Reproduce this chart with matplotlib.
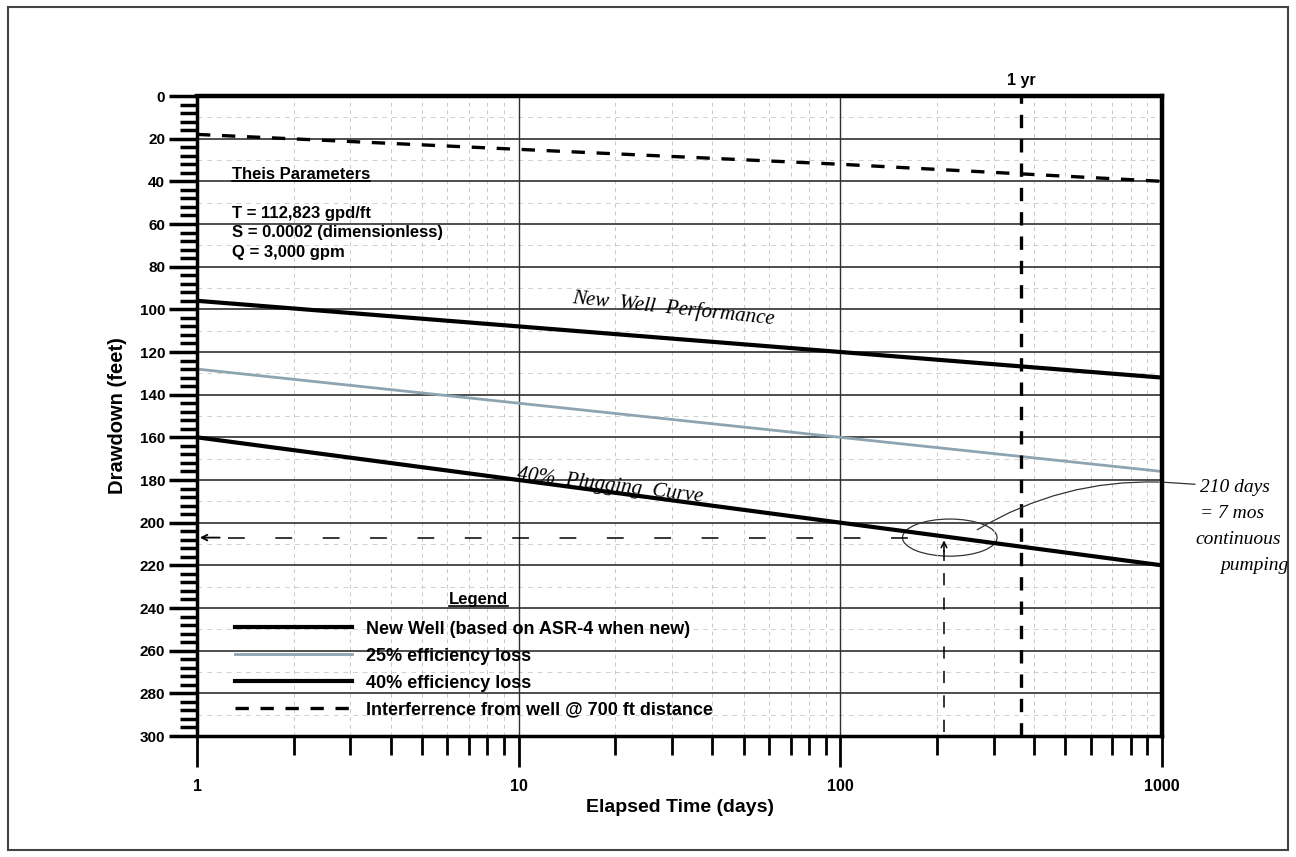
import numpy as np
import matplotlib
matplotlib.use('Agg')
import matplotlib.pyplot as plt
from matplotlib.patches import Ellipse, Rectangle
from matplotlib.lines import Line2D

# drawdown (ft) at 1, 10, 100, 1000 days
days = [1, 10, 100, 1000]
new_well = [96, 108, 120, 132]
loss_25 = [128, 144, 160, 176]
loss_40 = [160, 180, 200, 220]
interference = [18, 25, 32, 40]

series_labels = ['New Well (based on ASR-4 when new)', '25% efficiency loss',
                 '40% efficiency loss', 'Interferrence from well @ 700 ft distance']
x_ticks = [1, 10, 100, 1000]
x_ticklabels = ['1', '10', '100', '1000']
y_ticks = list(range(0, 301, 20))

year_days = 365
pump_days = 210
target_dd = 207

theis_lines = ['T = 112,823 gpd/ft', 'S = 0.0002 (dimensionless)', 'Q = 3,000 gpm']
note_lines = ['210 days', '= 7 mos', 'continuous', 'pumping']

plt.rcParams['font.family'] = ['Liberation Sans', 'DejaVu Sans']
plt.rcParams['font.weight'] = 'bold'
plt.rcParams['axes.labelweight'] = 'bold'
hand = dict(family='Liberation Serif', style='italic', weight='normal')

W, H = 1296, 857
fig = plt.figure(figsize=(W / 100, H / 100), dpi=100)
ax = fig.add_axes([197 / W, 1 - 736 / H, 965 / W, 640 / H])

ax.set_xscale('log')
ax.set_xlim(1, 1000)
ax.set_ylim(300, 0)

# grid
ax.set_yticks(y_ticks)
ax.set_yticks(np.arange(0, 301, 4), minor=True)
ax.set_xticks(x_ticks)
ax.set_xticklabels(x_ticklabels)
ax.xaxis.set_minor_formatter(plt.NullFormatter())
ax.grid(axis='y', which='major', color='#303030', lw=1.2)
ax.grid(axis='x', which='major', color='#303030', lw=1.0)
ax.grid(axis='x', which='minor', color='#c8c8c8', lw=0.7, ls=(0, (4, 4)))
ax.hlines(np.arange(10, 300, 20), 1, 1000, colors='#d0d0d0', lw=0.7,
          linestyles=(0, (5, 5)), zorder=0)

ax.tick_params(axis='y', which='major', length=20, width=2.5, pad=3, labelsize=11)
ax.tick_params(axis='y', which='minor', length=12, width=2.5)
ax.tick_params(axis='x', which='major', length=22, width=2, pad=9, labelsize=11.5)
ax.tick_params(axis='x', which='minor', length=14, width=2)
for side, lw in [('top', 3.2), ('right', 3.2), ('left', 2.5), ('bottom', 2.5)]:
    ax.spines[side].set_linewidth(lw)

# curves
l1, = ax.plot(days, new_well, color='black', lw=3)
l2, = ax.plot(days, loss_25, color='#8ea4b2', lw=2)
l3, = ax.plot(days, loss_40, color='black', lw=3)
l4, = ax.plot(days, interference, color='black', lw=2.4, dashes=(4, 3.5))

# 1 yr marker
ax.axvline(year_days, color='black', lw=2.4, dashes=(4, 3.3))
ax.text(year_days, 1.025, '1 yr', transform=ax.get_xaxis_transform(),
        ha='center', va='center', fontsize=11.5)

# text blocks
t_theis = ax.text(1.285, 37, 'Theis Parameters', fontsize=12, va='center')
for i, s in enumerate(theis_lines):
    ax.text(1.285, 55 + 9.2 * i, s, fontsize=12, va='center')
t_leg = ax.text(7.5, 236, 'Legend', fontsize=12, ha='center', va='center')

ax.legend([l1, l2, l3, l4], series_labels, loc='upper left',
          bbox_to_anchor=(0.039, 0.18), frameon=False, fontsize=13,
          handlelength=6.5, handletextpad=0.75, labelspacing=0.55,
          borderpad=0, borderaxespad=0)

# handwritten notes
ax.text(30.2, 99.5, 'New  Well  Performance', rotation=-6, rotation_mode='anchor',
        ha='center', va='center', fontsize=15, **hand)
ax.text(19.2, 183, '40%  Plugging  Curve', rotation=-7, rotation_mode='anchor',
        ha='center', va='center', fontsize=15, **hand)

ax.plot([1.25, pump_days * 0.8], [target_dd, target_dd], color='black', lw=1.1,
        dashes=(11, 20))
ax.annotate('', xy=(1.0, target_dd), xytext=(1.2, target_dd),
            arrowprops=dict(arrowstyle='->', lw=1.3, color='black'))
ax.plot([pump_days, pump_days], [298, target_dd + 6], color='black', lw=1.1,
        dashes=(8, 8))
ax.annotate('', xy=(pump_days, target_dd), xytext=(pump_days, target_dd + 8),
            arrowprops=dict(arrowstyle='->', lw=1.1, color='black'))
ax.add_patch(Ellipse((np.log10(pump_days) / 3 + 0.006, 1 - target_dd / 300), 0.098, 0.058,
                     transform=ax.transAxes, fill=False, lw=0.9, ec='#333'))
ax.annotate('', xy=(1000, loss_25[-1] + 5), xytext=(262, target_dd - 3),
            arrowprops=dict(arrowstyle='-', lw=0.9, color='#333',
                            connectionstyle='arc3,rad=-0.15'))
ax.plot([1000, 1265], [loss_25[-1] + 5, loss_25[-1] + 6], color='#333', lw=0.9,
        clip_on=False)
for i, s in enumerate(note_lines):
    fig.text((1200 + (20 if i == 3 else 0) - (5 if i == 2 else 0)) / W,
             1 - (488 + 26 * i) / H, s, fontsize=14, va='center', **hand)

ax.set_xlabel('Elapsed Time (days)', fontsize=14)
ax.set_ylabel('Drawdown (feet)', fontsize=14.5)
ax.xaxis.set_label_coords(0.5, -(808 - 736) / 640)
ax.yaxis.set_label_coords(-(197 - 118) / 965, 0.5)
ax.xaxis.label.set_va('center')
ax.yaxis.label.set_va('center')

# page border of the scan
fig.add_artist(Rectangle((8 / W, 7 / H), 1280 / W, 843 / H, transform=fig.transFigure,
                         fill=False, lw=1.5, ec='#444'))

# underline headings
fig.canvas.draw()
inv = fig.transFigure.inverted()
for t in [t_theis, t_leg]:
    bb = t.get_window_extent()
    (x0, y0), (x1, _) = inv.transform([[bb.x0, bb.y0 + 1], [bb.x1, bb.y0 + 1]])
    fig.add_artist(Line2D([x0, x1], [y0, y0], color='black', lw=1.2,
                          transform=fig.transFigure))

fig.savefig('out.png', dpi=100)
